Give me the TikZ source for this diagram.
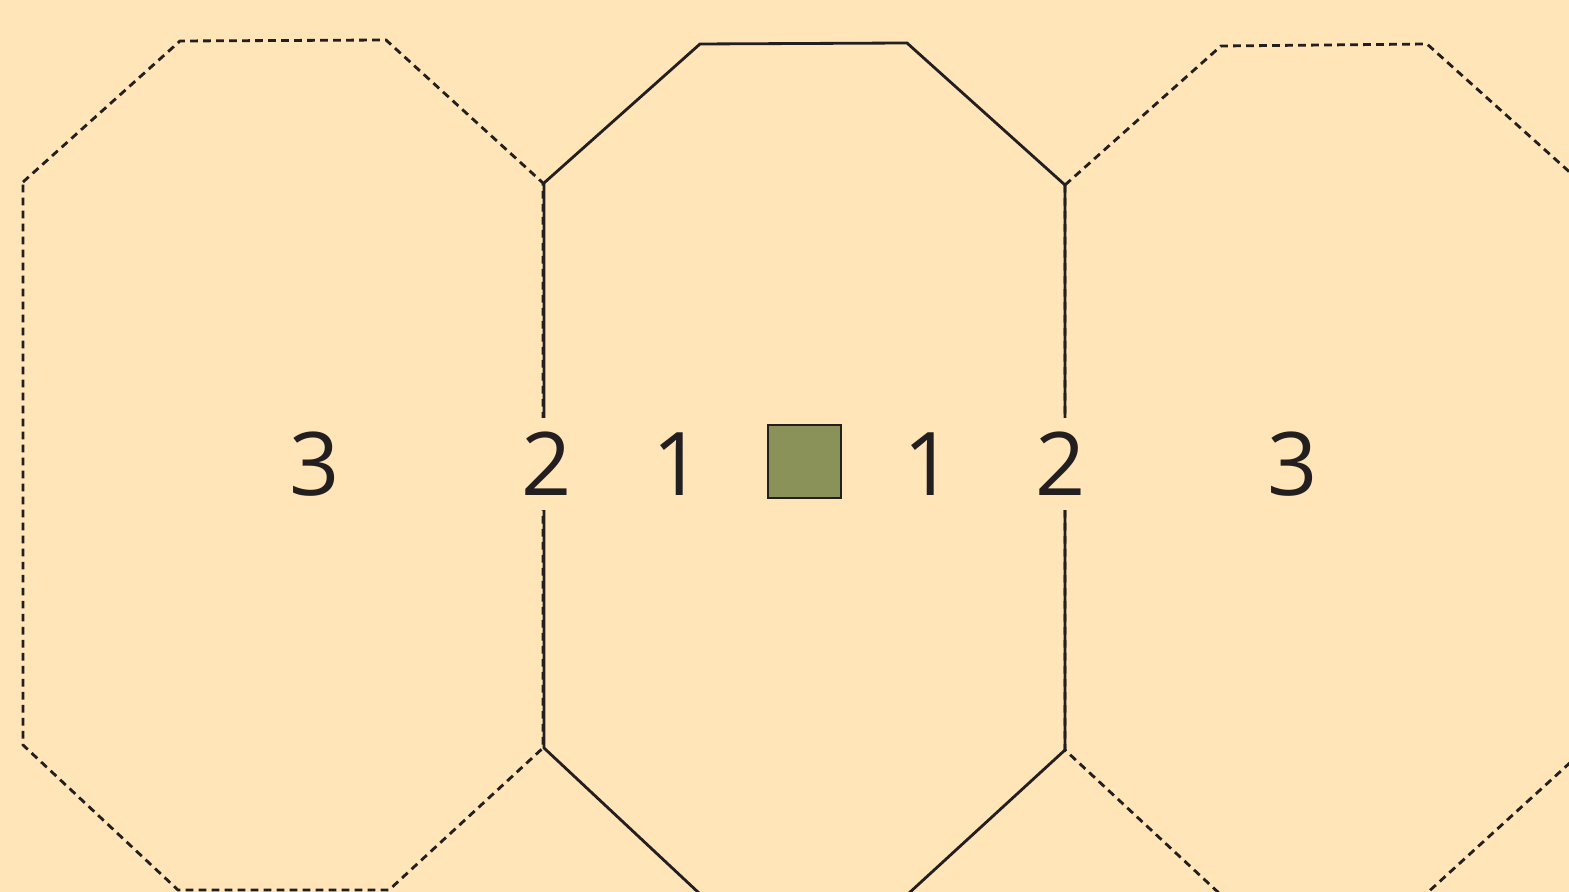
\documentclass[tikz,border=0pt]{standalone}
\usepackage{fontspec}
\setmainfont{Open Sans}
\definecolor{paper}{HTML}{FFE5B7}
\definecolor{ink}{HTML}{231F20}
\definecolor{moss}{HTML}{8A9159}
\begin{document}
\begin{tikzpicture}[
  octline/.style={ink, line width=0.8pt, line join=miter},
  ghostline/.style={ink, line width=0.8pt, dash pattern=on 2.2pt off 1.5pt},
  numlabel/.style={text=ink, anchor=base, font=\fontsize{25}{30}\selectfont},
  gapnum/.style={numlabel, fill=paper, inner xsep=0.02cm, inner ysep=0.14cm},
  stonebox/.style={draw=ink, fill=moss, line width=0.8pt, minimum size=0.73cm, inner sep=0pt}]
% Background and frame
\fill[paper] (0,0) rectangle (15.69,8.92);
\clip (0,0) rectangle (15.69,8.92);
% Left octagon (dashed)
\draw[ghostline] (0.23,7.10) -- (1.80,8.51) -- (3.86,8.52) -- (5.43,7.09)
  -- (5.43,1.44) -- (3.89,0.02) -- (1.78,0.02) -- (0.23,1.47) -- cycle;
% Right octagon (dashed, runs off the page)
\draw[ghostline] (10.65,7.07) -- (12.21,8.46) -- (14.27,8.48) -- (15.84,7.07)
  -- (15.84,1.42) -- (14.26,-0.02) -- (12.20,-0.02) -- (10.65,1.42) -- cycle;
% Middle octagon (solid)
\draw[octline] (5.44,7.09) -- (7.00,8.48) -- (9.07,8.49) -- (10.65,7.07)
  -- (10.65,1.42) -- (9.08,-0.02) -- (7.00,-0.02) -- (5.44,1.44) -- cycle;
% Distance labels
\node[numlabel] (l3) at (3.15,3.96) {3};
\node[gapnum]   (l2) at (5.47,3.96) {2};
\node[numlabel] (l1) at (6.78,3.96) {1};
\node[stonebox] (stone) at (8.045,4.305) {};
\node[numlabel] (r1) at (9.29,3.96) {1};
\node[gapnum]   (r2) at (10.61,3.96) {2};
\node[numlabel] (r3) at (12.93,3.96) {3};
\end{tikzpicture}
\end{document}
